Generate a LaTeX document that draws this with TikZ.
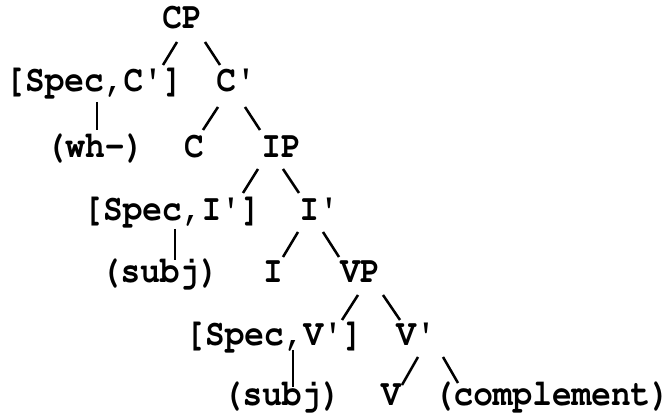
\documentclass[tikz,border=0pt]{standalone}
\usepackage[T1]{fontenc}
\usepackage{textcomp}
\usepackage{graphicx}
\usetikzlibrary{calc}
\newcommand{\tallt}[1]{\scalebox{1}[1.14]{#1}}
\tikzset{
  lbl/.style={anchor=base, inner sep=0pt, font=\fontencoding{T1}\fontfamily{pcr}\fontseries{b}\fontsize{24.6}{24.6}\selectfont},
  br/.style={line width=1.9pt, black}
}
\newcommand{\pr}{\textquotesingle}
\begin{document}
\begin{tikzpicture}[x=0.75pt, y=-0.75pt]
\useasboundingbox[fill=white] (0,0) rectangle (669,417);
\node[lbl] (CP)    at (182,29)  {\tallt{CP}};
\node[lbl] (SpecC) at (94,92)   {\tallt{[Spec,C\pr]}};
\node[lbl] (Cbar)  at (236,92)  {\tallt{C\pr}};
\node[lbl] (wh)    at (95,158)  {\tallt{(wh-)}};
\node[lbl] (C)     at (194,158) {\tallt{C}};
\node[lbl] (IP)    at (281,158) {\tallt{IP}};
\node[lbl] (SpecI) at (172,221) {\tallt{[Spec,I\pr]}};
\node[lbl] (Ibar)  at (319,221) {\tallt{I\pr}};
\node[lbl] (subjA) at (160,283) {\tallt{(subj)}};
\node[lbl] (I)     at (273,283) {\tallt{I}};
\node[lbl] (VP)    at (360,283) {\tallt{VP}};
\node[lbl] (SpecV) at (274,346) {\tallt{[Spec,V\pr]}};
\node[lbl] (Vbar)  at (416,346) {\tallt{V\pr}};
\node[lbl] (subjB) at (282,406) {\tallt{(subj)}};
\node[lbl] (V)     at (391,406) {\tallt{V}};
\node[lbl] (compl) at (552,406) {\tallt{(complement)}};
\draw[br] ($(CP.base)+(-5,13)$)   -- ($(SpecC.base)+(69,-27)$);
\draw[br] ($(CP.base)+(23,13)$)   -- ($(Cbar.base)+(-16,-27)$);
\draw[br] ($(SpecC.base)+(3,10)$) -- ($(wh.base)+(2,-28)$);
\draw[br] ($(Cbar.base)+(-18,15)$) -- ($(C.base)+(9,-28)$);
\draw[br] ($(Cbar.base)+(9,15)$)  -- ($(IP.base)+(-21,-28)$);
\draw[br] ($(IP.base)+(-23,11)$)  -- ($(SpecI.base)+(71,-28)$);
\draw[br] ($(IP.base)+(2,11)$)    -- ($(Ibar.base)+(-20,-28)$);
\draw[br] ($(SpecI.base)+(3,8)$)  -- ($(subjA.base)+(15,-23)$);
\draw[br] ($(Ibar.base)+(-21,11)$) -- ($(I.base)+(10,-26)$);
\draw[br] ($(Ibar.base)+(4,11)$)  -- ($(VP.base)+(-21,-26)$);
\draw[br] ($(VP.base)+(-2,12)$)   -- ($(SpecV.base)+(68,-26)$);
\draw[br] ($(VP.base)+(23,12)$)   -- ($(Vbar.base)+(-16,-26)$);
\draw[br] ($(SpecV.base)+(19,4)$) -- ($(subjB.base)+(11,-19)$);
\draw[br] ($(Vbar.base)+(2,11)$)  -- ($(V.base)+(11,-21)$);
\draw[br] ($(Vbar.base)+(27,11)$) -- ($(compl.base)+(-94,-23)$);
\end{tikzpicture}
\end{document}
